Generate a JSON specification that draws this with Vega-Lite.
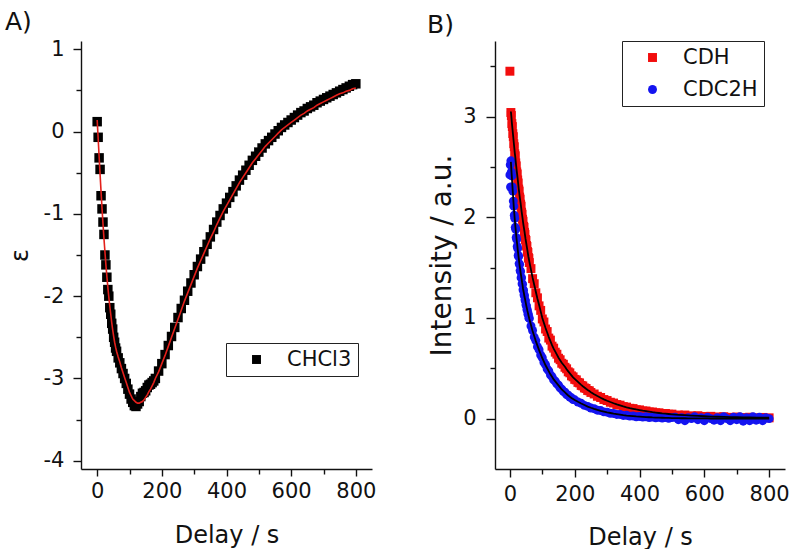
{
"$schema": "https://vega.github.io/schema/vega-lite/v6.json",
"background": "white",
"padding": {"left": 5, "top": 10, "right": 0, "bottom": 0},
"config": {
  "font": "DejaVu Sans",
  "view": {"stroke": null},
  "axis": {"grid": false, "domainColor": "#111", "tickColor": "#111", "labelColor": "#111", "titleColor": "#111", "labelFontSize": 21, "titleFontSize": 24, "titleFontWeight": "normal", "domainWidth": 1.4, "tickWidth": 1.4, "labelFlush": false},
  "legend": {"labelFontSize": 21, "labelColor": "#111", "strokeColor": "#222", "padding": 6, "fillColor": "white", "symbolStrokeWidth": 0, "symbolSize": 80, "symbolOffset": 14, "labelOffset": 20, "rowPadding": 10},
  "title": {"fontSize": 25, "fontWeight": "normal", "color": "#111"}
},
"resolve": {"scale": {"x": "independent", "y": "independent", "color": "independent", "shape": "independent"}},
"spacing": 51,
"datasets": {
  "A": [
    {"t":0,"v":0.12,"fit":0.14},{"t":3,"v":-0.07,"fit":-0.08},{"t":6,"v":-0.32,"fit":-0.30},{"t":9,"v":-0.46,"fit":-0.52},{"t":12,"v":-0.78,"fit":-0.73},{"t":15,"v":-0.94,"fit":-0.93},{"t":18,"v":-1.10,"fit":-1.12},{"t":21,"v":-1.25,"fit":-1.30},{"t":24,"v":-1.50,"fit":-1.46},{"t":27,"v":-1.62,"fit":-1.62},{"t":30,"v":-1.77,"fit":-1.76},{"t":33,"v":-1.92,"fit":-1.89},{"t":36,"v":-2.00,"fit":-2.01},{"t":39,"v":-2.14,"fit":-2.12},{"t":42,"v":-2.22,"fit":-2.22},{"t":45,"v":-2.33,"fit":-2.32},{"t":48,"v":-2.40,"fit":-2.41},{"t":51,"v":-2.50,"fit":-2.49},{"t":54,"v":-2.56,"fit":-2.56},{"t":57,"v":-2.63,"fit":-2.62},{"t":60,"v":-2.67,"fit":-2.67},
    {"t":65,"v":-2.75,"fit":-2.74},{"t":70,"v":-2.81,"fit":-2.80},{"t":75,"v":-2.88,"fit":-2.87},{"t":80,"v":-2.94,"fit":-2.93},{"t":85,"v":-3.00,"fit":-2.99},{"t":90,"v":-3.06,"fit":-3.05},{"t":95,"v":-3.13,"fit":-3.11},{"t":100,"v":-3.19,"fit":-3.17},{"t":105,"v":-3.25,"fit":-3.21},{"t":110,"v":-3.29,"fit":-3.25},{"t":115,"v":-3.33,"fit":-3.27},{"t":120,"v":-3.34,"fit":-3.29},{"t":125,"v":-3.31,"fit":-3.30},{"t":130,"v":-3.28,"fit":-3.30},{"t":135,"v":-3.22,"fit":-3.29},{"t":140,"v":-3.18,"fit":-3.28},{"t":145,"v":-3.17,"fit":-3.26},{"t":150,"v":-3.15,"fit":-3.23},{"t":155,"v":-3.11,"fit":-3.20},{"t":160,"v":-3.08,"fit":-3.16},{"t":165,"v":-3.07,"fit":-3.13},{"t":170,"v":-3.05,"fit":-3.09},{"t":175,"v":-3.03,"fit":-3.05},{"t":180,"v":-3.00,"fit":-3.00},{"t":190,"v":-2.91,"fit":-2.92},{"t":200,"v":-2.82,"fit":-2.82},
    {"t":210,"v":-2.71,"fit":-2.72},{"t":220,"v":-2.60,"fit":-2.61},{"t":230,"v":-2.49,"fit":-2.50},{"t":240,"v":-2.38,"fit":-2.39},{"t":250,"v":-2.26,"fit":-2.28},{"t":260,"v":-2.15,"fit":-2.17},{"t":270,"v":-2.05,"fit":-2.06},{"t":280,"v":-1.94,"fit":-1.96},{"t":290,"v":-1.84,"fit":-1.86},{"t":300,"v":-1.74,"fit":-1.76},
    {"t":310,"v":-1.64,"fit":-1.66},{"t":320,"v":-1.55,"fit":-1.57},{"t":330,"v":-1.46,"fit":-1.48},{"t":340,"v":-1.37,"fit":-1.39},{"t":350,"v":-1.28,"fit":-1.30},{"t":360,"v":-1.19,"fit":-1.22},{"t":370,"v":-1.10,"fit":-1.13},{"t":380,"v":-1.02,"fit":-1.05},{"t":390,"v":-0.94,"fit":-0.97},{"t":400,"v":-0.87,"fit":-0.90},
    {"t":410,"v":-0.80,"fit":-0.83},{"t":420,"v":-0.73,"fit":-0.76},{"t":430,"v":-0.66,"fit":-0.69},{"t":440,"v":-0.59,"fit":-0.62},{"t":450,"v":-0.53,"fit":-0.56},{"t":460,"v":-0.47,"fit":-0.50},{"t":470,"v":-0.41,"fit":-0.44},{"t":480,"v":-0.35,"fit":-0.38},{"t":490,"v":-0.30,"fit":-0.33},{"t":500,"v":-0.25,"fit":-0.28},
    {"t":510,"v":-0.20,"fit":-0.23},{"t":520,"v":-0.15,"fit":-0.18},{"t":530,"v":-0.11,"fit":-0.14},{"t":540,"v":-0.07,"fit":-0.10},{"t":550,"v":-0.03,"fit":-0.06},{"t":560,"v":0.01,"fit":-0.02},{"t":570,"v":0.05,"fit":0.02},{"t":580,"v":0.08,"fit":0.05},{"t":590,"v":0.11,"fit":0.08},{"t":600,"v":0.14,"fit":0.11},
    {"t":610,"v":0.17,"fit":0.14},{"t":620,"v":0.20,"fit":0.17},{"t":630,"v":0.23,"fit":0.20},{"t":640,"v":0.25,"fit":0.22},{"t":650,"v":0.28,"fit":0.25},{"t":660,"v":0.30,"fit":0.27},{"t":670,"v":0.32,"fit":0.29},{"t":680,"v":0.35,"fit":0.32},{"t":690,"v":0.37,"fit":0.34},{"t":700,"v":0.39,"fit":0.36},
    {"t":710,"v":0.41,"fit":0.38},{"t":720,"v":0.43,"fit":0.40},{"t":730,"v":0.45,"fit":0.42},{"t":740,"v":0.47,"fit":0.44},{"t":750,"v":0.49,"fit":0.46},{"t":760,"v":0.51,"fit":0.47},{"t":770,"v":0.53,"fit":0.49},{"t":780,"v":0.55,"fit":0.50},{"t":790,"v":0.57,"fit":0.52},{"t":800,"v":0.58,"fit":0.53}
  ],
  "B": [
    {"s":"CDH","t":0,"v":3.45},
    {"s":"CDH","t":3,"v":3.04,"fit":3.05},{"s":"CDH","t":4.5,"v":3.01,"fit":3.00},{"s":"CDH","t":6,"v":2.93,"fit":2.94},{"s":"CDH","t":7.5,"v":2.90,"fit":2.89},{"s":"CDH","t":9,"v":2.83,"fit":2.84},{"s":"CDH","t":10.5,"v":2.80,"fit":2.79},{"s":"CDH","t":12,"v":2.73,"fit":2.74},{"s":"CDH","t":13.5,"v":2.70,"fit":2.69},{"s":"CDH","t":15,"v":2.63,"fit":2.64},{"s":"CDH","t":16.5,"v":2.61,"fit":2.60},
    {"s":"CDH","t":18,"v":2.54,"fit":2.55},{"s":"CDH","t":19.5,"v":2.51,"fit":2.505},{"s":"CDH","t":21,"v":2.45,"fit":2.46},{"s":"CDH","t":22.5,"v":2.43,"fit":2.42},{"s":"CDH","t":24,"v":2.37,"fit":2.38},{"s":"CDH","t":25.5,"v":2.34,"fit":2.335},{"s":"CDH","t":27,"v":2.28,"fit":2.29},{"s":"CDH","t":28.5,"v":2.26,"fit":2.25},{"s":"CDH","t":30,"v":2.20,"fit":2.21},{"s":"CDH","t":31.5,"v":2.18,"fit":2.175},
    {"s":"CDH","t":33,"v":2.13,"fit":2.14},{"s":"CDH","t":34.5,"v":2.11,"fit":2.10},{"s":"CDH","t":36,"v":2.05,"fit":2.06},{"s":"CDH","t":37.5,"v":2.03,"fit":2.025},{"s":"CDH","t":39,"v":1.98,"fit":1.99},{"s":"CDH","t":40.5,"v":1.96,"fit":1.955},{"s":"CDH","t":42,"v":1.91,"fit":1.92},{"s":"CDH","t":43.5,"v":1.90,"fit":1.89},{"s":"CDH","t":45,"v":1.85,"fit":1.86},{"s":"CDH","t":46.5,"v":1.83,"fit":1.825},
    {"s":"CDH","t":48,"v":1.78,"fit":1.79},{"s":"CDH","t":49.5,"v":1.77,"fit":1.76},{"s":"CDH","t":51,"v":1.72,"fit":1.73},{"s":"CDH","t":52.5,"v":1.71,"fit":1.70},{"s":"CDH","t":54,"v":1.66,"fit":1.67},{"s":"CDH","t":55.5,"v":1.65,"fit":1.64},{"s":"CDH","t":57,"v":1.60,"fit":1.61},{"s":"CDH","t":58.5,"v":1.59,"fit":1.585},{"s":"CDH","t":60,"v":1.55,"fit":1.56},
    {"s":"CDH","t":65,"v":1.49,"fit":1.48},{"s":"CDH","t":70,"v":1.39,"fit":1.40},{"s":"CDH","t":75,"v":1.34,"fit":1.33},{"s":"CDH","t":80,"v":1.25,"fit":1.26},{"s":"CDH","t":85,"v":1.20,"fit":1.19},{"s":"CDH","t":90,"v":1.12,"fit":1.13},{"s":"CDH","t":95,"v":1.075,"fit":1.065},{"s":"CDH","t":100,"v":0.99,"fit":1.00},{"s":"CDH","t":105,"v":0.96,"fit":0.95},{"s":"CDH","t":110,"v":0.89,"fit":0.90},
    {"s":"CDH","t":115,"v":0.865,"fit":0.855},{"s":"CDH","t":120,"v":0.80,"fit":0.81},{"s":"CDH","t":125,"v":0.78,"fit":0.77},{"s":"CDH","t":130,"v":0.72,"fit":0.73},{"s":"CDH","t":135,"v":0.70,"fit":0.695},{"s":"CDH","t":140,"v":0.66,"fit":0.665},{"s":"CDH","t":145,"v":0.64,"fit":0.635},{"s":"CDH","t":150,"v":0.60,"fit":0.605},{"s":"CDH","t":155,"v":0.585,"fit":0.58},{"s":"CDH","t":160,"v":0.55,"fit":0.555},
    {"s":"CDH","t":165,"v":0.54,"fit":0.535},{"s":"CDH","t":170,"v":0.51,"fit":0.515},{"s":"CDH","t":175,"v":0.495,"fit":0.49},{"s":"CDH","t":180,"v":0.465,"fit":0.47},{"s":"CDH","t":185,"v":0.455,"fit":0.45},{"s":"CDH","t":190,"v":0.425,"fit":0.43},{"s":"CDH","t":195,"v":0.415,"fit":0.41},{"s":"CDH","t":200,"v":0.39,"fit":0.395},
    {"s":"CDH","t":205,"v":0.385,"fit":0.38},{"s":"CDH","t":210,"v":0.36,"fit":0.365},{"s":"CDH","t":215,"v":0.355,"fit":0.35},{"s":"CDH","t":220,"v":0.33,"fit":0.335},{"s":"CDH","t":225,"v":0.325,"fit":0.322},{"s":"CDH","t":230,"v":0.305,"fit":0.31},{"s":"CDH","t":235,"v":0.30,"fit":0.297},{"s":"CDH","t":240,"v":0.28,"fit":0.285},{"s":"CDH","t":245,"v":0.277,"fit":0.274},{"s":"CDH","t":250,"v":0.26,"fit":0.263},
    {"s":"CDH","t":260,"v":0.245,"fit":0.243},{"s":"CDH","t":270,"v":0.222,"fit":0.225},{"s":"CDH","t":280,"v":0.21,"fit":0.208},{"s":"CDH","t":290,"v":0.19,"fit":0.192},{"s":"CDH","t":300,"v":0.18,"fit":0.178},{"s":"CDH","t":310,"v":0.163,"fit":0.165},{"s":"CDH","t":320,"v":0.155,"fit":0.153},{"s":"CDH","t":330,"v":0.14,"fit":0.142},{"s":"CDH","t":340,"v":0.134,"fit":0.132},{"s":"CDH","t":350,"v":0.12,"fit":0.122},
    {"s":"CDH","t":360,"v":0.115,"fit":0.113},{"s":"CDH","t":370,"v":0.103,"fit":0.105},{"s":"CDH","t":380,"v":0.10,"fit":0.098},{"s":"CDH","t":390,"v":0.089,"fit":0.091},{"s":"CDH","t":400,"v":0.087,"fit":0.085},{"s":"CDH","t":410,"v":0.077,"fit":0.079},{"s":"CDH","t":420,"v":0.076,"fit":0.074},{"s":"CDH","t":430,"v":0.067,"fit":0.069},{"s":"CDH","t":440,"v":0.066,"fit":0.064},{"s":"CDH","t":450,"v":0.058,"fit":0.06},
    {"s":"CDH","t":460,"v":0.058,"fit":0.056},{"s":"CDH","t":470,"v":0.05,"fit":0.052},{"s":"CDH","t":480,"v":0.051,"fit":0.049},{"s":"CDH","t":490,"v":0.044,"fit":0.046},{"s":"CDH","t":500,"v":0.045,"fit":0.043},{"s":"CDH","t":520,"v":0.036,"fit":0.038},{"s":"CDH","t":540,"v":0.036,"fit":0.034},{"s":"CDH","t":560,"v":0.028,"fit":0.03},{"s":"CDH","t":580,"v":0.029,"fit":0.027},{"s":"CDH","t":600,"v":0.022,"fit":0.024},
    {"s":"CDH","t":620,"v":0.023,"fit":0.021},{"s":"CDH","t":640,"v":0.017,"fit":0.019},{"s":"CDH","t":660,"v":0.019,"fit":0.017},{"s":"CDH","t":680,"v":0.013,"fit":0.015},{"s":"CDH","t":700,"v":0.016,"fit":0.014},{"s":"CDH","t":720,"v":0.011,"fit":0.013},{"s":"CDH","t":740,"v":0.014,"fit":0.012},{"s":"CDH","t":760,"v":0.009,"fit":0.011},{"s":"CDH","t":780,"v":0.012,"fit":0.01},{"s":"CDH","t":800,"v":0.008,"fit":0.01},
    {"s":"CDC2H","t":0,"v":2.42},{"s":"CDC2H","t":1,"v":2.52},{"s":"CDC2H","t":2,"v":2.30},
    {"s":"CDC2H","t":3,"v":2.56,"fit":2.55},{"s":"CDC2H","t":4.5,"v":2.45,"fit":2.47},{"s":"CDC2H","t":6,"v":2.41,"fit":2.40},{"s":"CDC2H","t":7.5,"v":2.30,"fit":2.32},{"s":"CDC2H","t":9,"v":2.26,"fit":2.25},{"s":"CDC2H","t":10.5,"v":2.16,"fit":2.175},{"s":"CDC2H","t":12,"v":2.11,"fit":2.10},{"s":"CDC2H","t":13.5,"v":2.02,"fit":2.04},{"s":"CDC2H","t":15,"v":1.99,"fit":1.98},{"s":"CDC2H","t":16.5,"v":1.90,"fit":1.92},
    {"s":"CDC2H","t":18,"v":1.88,"fit":1.87},{"s":"CDC2H","t":19.5,"v":1.80,"fit":1.82},{"s":"CDC2H","t":21,"v":1.78,"fit":1.77},{"s":"CDC2H","t":22.5,"v":1.71,"fit":1.73},{"s":"CDC2H","t":24,"v":1.69,"fit":1.68},{"s":"CDC2H","t":25.5,"v":1.62,"fit":1.64},{"s":"CDC2H","t":27,"v":1.61,"fit":1.60},{"s":"CDC2H","t":28.5,"v":1.54,"fit":1.56},{"s":"CDC2H","t":30,"v":1.53,"fit":1.52},{"s":"CDC2H","t":31.5,"v":1.47,"fit":1.49},
    {"s":"CDC2H","t":33,"v":1.46,"fit":1.45},{"s":"CDC2H","t":34.5,"v":1.40,"fit":1.42},{"s":"CDC2H","t":36,"v":1.40,"fit":1.39},{"s":"CDC2H","t":37.5,"v":1.34,"fit":1.355},{"s":"CDC2H","t":39,"v":1.335,"fit":1.325},{"s":"CDC2H","t":40.5,"v":1.28,"fit":1.29},{"s":"CDC2H","t":42,"v":1.275,"fit":1.265},{"s":"CDC2H","t":43.5,"v":1.23,"fit":1.24},{"s":"CDC2H","t":45,"v":1.22,"fit":1.21},{"s":"CDC2H","t":46.5,"v":1.18,"fit":1.19},
    {"s":"CDC2H","t":48,"v":1.17,"fit":1.165},{"s":"CDC2H","t":49.5,"v":1.13,"fit":1.14},{"s":"CDC2H","t":51,"v":1.12,"fit":1.115},{"s":"CDC2H","t":52.5,"v":1.085,"fit":1.095},{"s":"CDC2H","t":54,"v":1.075,"fit":1.07},{"s":"CDC2H","t":55.5,"v":1.04,"fit":1.05},{"s":"CDC2H","t":57,"v":1.035,"fit":1.03},{"s":"CDC2H","t":58.5,"v":1.00,"fit":1.01},{"s":"CDC2H","t":60,"v":0.995,"fit":0.99},
    {"s":"CDC2H","t":65,"v":0.92,"fit":0.93},{"s":"CDC2H","t":70,"v":0.875,"fit":0.87},{"s":"CDC2H","t":75,"v":0.81,"fit":0.82},{"s":"CDC2H","t":80,"v":0.775,"fit":0.77},{"s":"CDC2H","t":85,"v":0.715,"fit":0.725},{"s":"CDC2H","t":90,"v":0.685,"fit":0.68},{"s":"CDC2H","t":95,"v":0.632,"fit":0.64},{"s":"CDC2H","t":100,"v":0.605,"fit":0.60},{"s":"CDC2H","t":105,"v":0.558,"fit":0.565},{"s":"CDC2H","t":110,"v":0.535,"fit":0.53},
    {"s":"CDC2H","t":115,"v":0.494,"fit":0.50},{"s":"CDC2H","t":120,"v":0.474,"fit":0.47},{"s":"CDC2H","t":125,"v":0.435,"fit":0.44},{"s":"CDC2H","t":130,"v":0.418,"fit":0.415},{"s":"CDC2H","t":135,"v":0.385,"fit":0.39},{"s":"CDC2H","t":140,"v":0.372,"fit":0.37},{"s":"CDC2H","t":145,"v":0.345,"fit":0.35},{"s":"CDC2H","t":150,"v":0.333,"fit":0.33},{"s":"CDC2H","t":155,"v":0.305,"fit":0.31},{"s":"CDC2H","t":160,"v":0.293,"fit":0.29},
    {"s":"CDC2H","t":165,"v":0.27,"fit":0.275},{"s":"CDC2H","t":170,"v":0.262,"fit":0.26},{"s":"CDC2H","t":175,"v":0.24,"fit":0.245},{"s":"CDC2H","t":180,"v":0.232,"fit":0.23},{"s":"CDC2H","t":185,"v":0.213,"fit":0.217},{"s":"CDC2H","t":190,"v":0.207,"fit":0.205},{"s":"CDC2H","t":195,"v":0.19,"fit":0.195},{"s":"CDC2H","t":200,"v":0.187,"fit":0.185},
    {"s":"CDC2H","t":210,"v":0.165,"fit":0.167},{"s":"CDC2H","t":220,"v":0.152,"fit":0.15},{"s":"CDC2H","t":230,"v":0.132,"fit":0.135},{"s":"CDC2H","t":240,"v":0.122,"fit":0.12},{"s":"CDC2H","t":250,"v":0.105,"fit":0.108},
    {"s":"CDC2H","t":260,"v":0.099,"fit":0.097},{"s":"CDC2H","t":270,"v":0.084,"fit":0.087},{"s":"CDC2H","t":280,"v":0.08,"fit":0.078},{"s":"CDC2H","t":290,"v":0.067,"fit":0.07},{"s":"CDC2H","t":300,"v":0.064,"fit":0.062},{"s":"CDC2H","t":310,"v":0.053,"fit":0.056},{"s":"CDC2H","t":320,"v":0.052,"fit":0.05},{"s":"CDC2H","t":330,"v":0.042,"fit":0.045},{"s":"CDC2H","t":340,"v":0.042,"fit":0.04},{"s":"CDC2H","t":350,"v":0.032,"fit":0.035},
    {"s":"CDC2H","t":360,"v":0.033,"fit":0.031},{"s":"CDC2H","t":370,"v":0.025,"fit":0.028},{"s":"CDC2H","t":380,"v":0.027,"fit":0.025},{"s":"CDC2H","t":390,"v":0.019,"fit":0.022},{"s":"CDC2H","t":400,"v":0.022,"fit":0.02},{"s":"CDC2H","t":410,"v":0.015,"fit":0.018},{"s":"CDC2H","t":420,"v":0.019,"fit":0.016},{"s":"CDC2H","t":430,"v":0.011,"fit":0.014},{"s":"CDC2H","t":440,"v":0.015,"fit":0.012},{"s":"CDC2H","t":450,"v":0.008,"fit":0.011},
    {"s":"CDC2H","t":460,"v":0.013,"fit":0.01},{"s":"CDC2H","t":470,"v":0.005,"fit":0.009},{"s":"CDC2H","t":480,"v":0.012,"fit":0.008},{"s":"CDC2H","t":490,"v":0.004,"fit":0.007},{"s":"CDC2H","t":500,"v":0.01,"fit":0.006},{"s":"CDC2H","t":510,"v":0.015,"fit":0.005},{"s":"CDC2H","t":520,"v":-0.01,"fit":0.005},{"s":"CDC2H","t":530,"v":0.01,"fit":0.004},{"s":"CDC2H","t":540,"v":-0.02,"fit":0.004},{"s":"CDC2H","t":550,"v":0.01,"fit":0.003},
    {"s":"CDC2H","t":560,"v":0.0,"fit":0.003},{"s":"CDC2H","t":570,"v":0.02,"fit":0.003},{"s":"CDC2H","t":580,"v":-0.01,"fit":0.002},{"s":"CDC2H","t":590,"v":0.01,"fit":0.002},{"s":"CDC2H","t":600,"v":-0.02,"fit":0.002},{"s":"CDC2H","t":610,"v":0.015,"fit":0.002},{"s":"CDC2H","t":620,"v":0.0,"fit":0.001},{"s":"CDC2H","t":630,"v":-0.015,"fit":0.001},{"s":"CDC2H","t":640,"v":0.01,"fit":0.001},{"s":"CDC2H","t":650,"v":-0.02,"fit":0.001},
    {"s":"CDC2H","t":660,"v":0.02,"fit":0.001},{"s":"CDC2H","t":670,"v":0.0,"fit":0.001},{"s":"CDC2H","t":680,"v":-0.02,"fit":0.001},{"s":"CDC2H","t":690,"v":0.015,"fit":0.0},{"s":"CDC2H","t":700,"v":-0.01,"fit":0.0},{"s":"CDC2H","t":710,"v":0.02,"fit":0.0},{"s":"CDC2H","t":720,"v":-0.025,"fit":0.0},{"s":"CDC2H","t":730,"v":0.01,"fit":0.0},{"s":"CDC2H","t":740,"v":-0.02,"fit":0.0},{"s":"CDC2H","t":750,"v":0.02,"fit":0.0},
    {"s":"CDC2H","t":760,"v":-0.015,"fit":0.0},{"s":"CDC2H","t":770,"v":0.015,"fit":0.0},{"s":"CDC2H","t":780,"v":-0.02,"fit":0.0},{"s":"CDC2H","t":790,"v":0.01,"fit":0.0},{"s":"CDC2H","t":800,"v":0.0,"fit":0.0}
  ]
},
"hconcat": [
  {
    "width": 291, "height": 428,
    "title": {"text": "A)", "anchor": "start", "frame": "group", "dx": -76, "offset": -17, "baseline": "alphabetic"},
    "data": {"name": "A"},
    "resolve": {"axis": {"x": "independent", "y": "independent"}},
    "layer": [
      {
        "mark": {"type": "point", "shape": "square", "filled": true, "size": 90, "opacity": 1},
        "encoding": {
          "x": {"field": "t", "type": "quantitative", "scale": {"domain": [-50, 850], "nice": false, "zero": false},
                "axis": {"orient": "bottom", "values": [0, 200, 400, 600, 800], "title": "Delay / s", "tickSize": 7, "labelPadding": 4, "titlePadding": 22}},
          "y": {"field": "v", "type": "quantitative", "scale": {"domain": [-4.1, 1.1], "nice": false, "zero": false},
                "axis": {"orient": "left", "values": [1, 0, -1, -2, -3, -4], "labelExpr": "'' + datum.value", "title": "ε", "tickSize": 8, "labelPadding": 9, "titlePadding": 11}},
          "color": {"datum": "CHCl3", "type": "nominal", "scale": {"domain": ["CHCl3"], "range": ["#000000"]},
                    "legend": {"orient": "none", "legendX": 145, "legendY": 302, "title": null, "symbolType": "square"}}
        }
      },
      {
        "mark": {"type": "line", "color": "#e3201b", "strokeWidth": 1.6},
        "encoding": {
          "x": {"field": "t", "type": "quantitative", "axis": {"orient": "bottom", "values": [100, 300, 500, 700], "labels": false, "domain": false, "tickSize": 5, "title": null}},
          "y": {"field": "fit", "type": "quantitative", "axis": {"orient": "left", "values": [0.5, -0.5, -1.5, -2.5, -3.5], "labels": false, "domain": false, "tickSize": 5, "title": null}}
        }
      }
    ]
  },
  {
    "width": 290, "height": 428,
    "title": {"text": "B)", "anchor": "start", "frame": "group", "dx": -68, "offset": -17, "baseline": "alphabetic"},
    "data": {"name": "B"},
    "resolve": {"axis": {"x": "independent", "y": "independent"}},
    "layer": [
      {
        "mark": {"type": "point", "filled": true, "size": 80, "opacity": 1},
        "encoding": {
          "x": {"field": "t", "type": "quantitative", "scale": {"domain": [-46, 849], "nice": false, "zero": false},
                "axis": {"orient": "bottom", "values": [0, 200, 400, 600, 800], "title": "Delay / s", "tickSize": 8, "labelPadding": 6, "titlePadding": 21}},
          "y": {"field": "v", "type": "quantitative", "scale": {"domain": [-0.5, 3.75], "nice": false, "zero": false},
                "axis": {"orient": "left", "values": [0, 1, 2, 3], "title": "Intensity / a.u.", "titleFontSize": 28, "tickSize": 9, "labelPadding": 10, "titlePadding": 6}},
          "color": {"field": "s", "type": "nominal", "scale": {"domain": ["CDH", "CDC2H"], "range": ["#f20d0d", "#1414f0"]},
                    "legend": {"orient": "none", "legendX": 127, "legendY": 0, "title": null}},
          "shape": {"field": "s", "type": "nominal", "scale": {"domain": ["CDH", "CDC2H"], "range": ["square", "circle"]},
                    "legend": {"orient": "none", "legendX": 127, "legendY": 0, "title": null}}
        }
      },
      {
        "mark": {"type": "line", "color": "#000000", "strokeWidth": 1.8},
        "encoding": {
          "x": {"field": "t", "type": "quantitative", "axis": {"orient": "bottom", "values": [100, 300, 500, 700], "labels": false, "domain": false, "tickSize": 5, "title": null}},
          "y": {"field": "fit", "type": "quantitative", "axis": {"orient": "left", "values": [0.5, 1.5, 2.5, 3.5], "labels": false, "domain": false, "tickSize": 5, "title": null}},
          "detail": {"field": "s", "type": "nominal"}
        }
      }
    ]
  }
]
}
